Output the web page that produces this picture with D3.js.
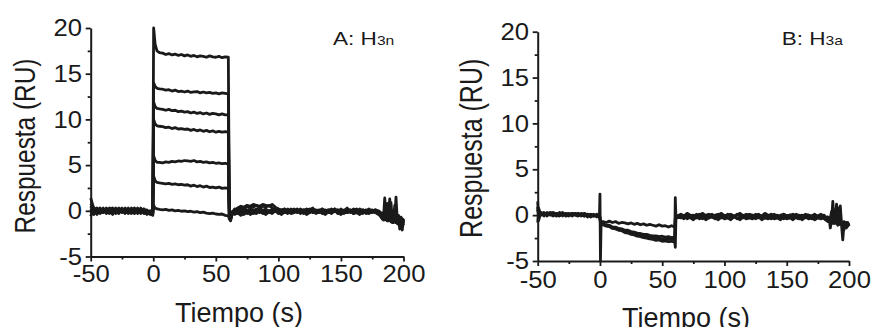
<!DOCTYPE html>
<html>
<head>
<meta charset="utf-8">
<script src="https://cdn.jsdelivr.net/npm/d3@7"></script>
<style>
  html, body { margin: 0; padding: 0; background: #fff; }
  svg { display: block; }
  text { font-family: "Liberation Sans", Arial, Helvetica, sans-serif; fill: #1a1a1a; }
</style>
</head>
<body>
<svg id="chart" width="875" height="327"></svg>
<script>
// Sample times (s) for panel A sensorgrams
const timeA = [-50,-47.5,-45,-42.5,-40,-37.5,-35,-32.5,-30,-27.5,-25,-22.5,-20,-17.5,-15,-12.5,-10,-7.5,-5,-2.5,-0.4,
  0.3,1.5,3,
  5,7.5,10,12.5,15,17.5,20,22.5,25,27.5,30,32.5,35,37.5,40,42.5,45,47.5,50,52.5,55,57.5,60,
  60.8,61.8,63,
  65,67.5,70,72.5,75,77.5,80,82.5,85,87.5,90,92.5,95,97.5,100,102.5,105,107.5,110,112.5,
  115,117.5,120,122.5,125,127.5,130,132.5,135,137.5,140,142.5,145,147.5,150,152.5,155,157.5,160,162.5,
  165,167.5,170,172.5,175,177.5,180,
  181,182,183,184,185,186,187,188,189,190,191,192,193,194,195,196,197,198,199,200];

// Panel A responses (RU), one array per injected concentration
const respA1 = [1.4,0.2,-0.3,0.1,-0.2,0.3,0.0,-0.4,0.2,0.1,-0.1,0.3,-0.2,0.0,0.2,-0.3,0.1,-0.1,-0.3,-0.2,-0.4,
  20.0,18.2,17.5,
  17.3,17.25,17.1,17.2,17.05,17.15,17.0,17.1,16.95,17.05,16.9,17.0,16.85,16.95,16.9,16.8,16.95,16.85,16.8,16.9,16.75,16.85,16.8,
  -0.8,-1.0,-0.4,
  0.1,0.3,0.5,0.4,0.6,0.5,0.7,0.6,0.5,0.7, 0.6,0.5,0.7,0.4,0.2,0.0,0.2,-0.1,0.1,0.0,
  0.2,-0.2,0.1,0.0,-0.1,0.2,0.0,-0.2,0.1,-0.1, 0.0,0.2,-0.1,0.1,-0.2,0.0,0.1,-0.1,0.2,0.0,
  -0.1,0.1,-0.2,0.0,0.1,-0.1,-0.3,
  -0.4,-0.6,-0.3,-0.8,1.4,-0.5,-0.9,-0.4,1.3,-0.7,-1.0,-0.5,-0.8,1.5,-0.9,-1.2,-0.7,-1.6,-1.0,-1.3];
const respA2 = [-0.6,0.3,0.1,-0.2,0.2,-0.1,0.3,0.1,-0.2,0.2,0.0,-0.2,0.2,-0.1,-0.3,0.1,-0.2,0.2,-0.1,-0.4,-0.2,
  14.0,13.6,13.4,
  13.35,13.3,13.2,13.25,13.1,13.2,13.05,13.1,13.0,13.1,12.95,13.0,13.05,12.9,13.0,12.9,12.95,12.85,12.9,12.8,12.9,12.85,12.8,
  -0.6,-0.9,-0.3,
  -0.2,0.1,0.3,0.2,0.5,0.3,0.4,0.6,0.3,0.5, 0.4,0.6,0.3,0.1,0.0,0.1,-0.1,0.2,-0.2,0.1,
  -0.1,0.1,0.0,0.2,-0.2,0.0,0.1,-0.1,0.2,0.0, -0.2,0.1,0.0,-0.1,0.2,-0.2,0.0,0.1,-0.1,0.1,
  0.0,-0.2,0.1,-0.1,0.0,0.1,-0.2,
  -0.2,-0.5,-0.9,-0.4,-0.7,0.3,-0.8,-1.1,-0.6,0.9,-0.9,-1.3,-0.7,-1.0,-1.4,-0.8,-2.0,-1.1,-1.5,-0.9];
const respA3 = [0.5,-0.2,0.2,0.0,0.3,-0.3,0.1,0.2,-0.1,-0.3,0.2,0.0,0.3,-0.2,0.1,0.2,-0.3,0.0,0.1,-0.3,-0.5,
  11.9,11.4,11.2,
  11.15,11.1,11.0,11.1,10.95,11.0,10.85,10.9,10.8,10.85,10.7,10.8,10.65,10.75,10.6,10.7,10.55,10.65,10.6,10.5,10.6,10.5,10.5,
  -0.7,-0.6,-0.2,
  -0.1,-0.3,0.0,-0.2,0.1,-0.1,0.0,0.2,-0.1,0.1, -0.2,0.0,0.1,-0.1,0.2,0.0,-0.2,0.1,0.0,-0.1,
  0.1,0.0,-0.2,0.1,0.2,-0.1,0.0,0.1,-0.2,0.0, 0.1,-0.1,0.2,0.0,-0.1,0.1,-0.2,0.0,0.1,-0.1,
  0.2,0.0,-0.1,0.1,-0.2,0.0,-0.1,
  -0.5,-0.3,-0.7,-1.0,-0.6,-0.9,0.8,-1.0,-0.7,-1.2,-0.6,-0.9,0.6,-1.1,-0.8,-1.5,-1.0,-1.3,-2.1,-1.0];
const respA4 = [-0.3,0.0,-0.4,0.2,0.0,0.1,-0.3,0.2,0.0,0.3,-0.2,0.1,-0.1,0.3,-0.1,0.0,0.2,-0.3,-0.2,0.0,-0.3,
  10.0,9.5,9.3,
  9.25,9.2,9.1,9.15,9.0,9.1,8.95,9.0,8.9,8.95,8.8,8.9,8.75,8.85,8.7,8.8,8.65,8.75,8.6,8.7,8.6,8.65,8.6,
  -0.5,-0.8,-0.3,
  0.0,-0.2,0.1,-0.4,-0.1,0.0,-0.3,0.1,-0.2,0.0, 0.1,-0.2,0.0,-0.1,0.1,-0.3,0.0,-0.1,0.2,-0.2,
  0.0,-0.1,0.1,-0.3,0.0,0.1,-0.2,0.0,-0.1,0.1, -0.2,0.0,-0.1,0.1,-0.1,-0.3,0.0,-0.2,0.0,-0.1,
  -0.2,0.0,-0.3,-0.1,0.0,-0.2,-0.1,
  -0.3,-0.7,-0.5,-0.2,-0.9,-0.6,-1.1,-0.5,-0.9,-0.6,-1.3,-0.8,-1.0,-0.7,-1.2,-0.9,-1.4,-0.8,-1.1,-1.6];
const respA5 = [0.8,0.3,0.0,-0.3,0.1,0.2,-0.2,0.0,0.3,-0.1,0.1,-0.3,0.0,0.2,-0.2,0.3,-0.1,0.1,-0.4,-0.1,-0.2,
  6.0,5.5,5.3,
  5.3,5.25,5.35,5.3,5.4,5.35,5.45,5.4,5.5,5.45,5.4,5.5,5.35,5.4,5.3,5.35,5.25,5.3,5.2,5.25,5.15,5.2,5.1,
  -0.4,-0.7,-0.1,
  -0.3,0.0,-0.2,0.0,-0.3,-0.1,0.1,-0.2,0.0,-0.3, -0.1,0.0,-0.2,0.1,-0.3,0.0,-0.1,-0.3,0.0,0.1,
  -0.2,0.0,-0.3,-0.1,0.1,-0.2,-0.1,0.0,-0.3,-0.1, 0.0,-0.2,0.1,-0.3,0.0,-0.1,-0.2,0.1,-0.3,0.0,
  -0.1,-0.3,0.0,-0.2,-0.1,0.0,-0.2,
  -0.4,-0.2,-0.6,-0.9,-0.5,-1.0,-0.7,-0.4,-1.0,-0.8,-0.6,-1.1,-0.9,-1.3,-0.7,-1.1,-0.8,-1.3,-0.9,-1.2];
const respA6 = [0.2,-0.4,0.1,0.3,-0.2,0.0,0.2,-0.2,0.1,0.0,0.3,-0.1,0.1,-0.3,0.0,-0.1,0.3,-0.2,0.0,-0.3,-0.1,
  3.8,3.3,3.1,
  3.05,3.0,2.95,3.0,2.9,2.95,2.85,2.9,2.8,2.85,2.7,2.8,2.65,2.75,2.6,2.7,2.55,2.6,2.5,2.6,2.45,2.5,2.45,
  -0.5,-0.5,-0.2,
  0.2,-0.1,0.1,0.3,0.0,0.2,-0.1,0.1,0.3,0.0, 0.2,-0.1,0.1,0.0,-0.2,0.1,0.2,-0.1,0.0,0.2,
  -0.1,0.2,0.0,-0.1,0.1,0.3,-0.1,0.0,0.2,-0.1, 0.1,0.0,0.2,-0.2,0.1,0.0,0.3,-0.1,0.0,0.2,
  -0.1,0.1,0.0,0.2,-0.2,0.1,0.0,
  -0.1,-0.5,-0.3,-0.6,-0.3,-0.8,-0.5,-0.9,-0.6,-0.4,-0.9,-0.7,-1.0,-0.6,-0.9,-0.5,-1.1,-0.7,-1.0,-0.8];
const respA7 = [-0.2,0.1,0.3,-0.1,0.2,-0.2,0.1,0.3,-0.3,0.2,-0.1,0.2,-0.3,0.1,0.3,-0.2,0.0,0.2,-0.2,-0.1,-0.3,
  0.6,0.3,0.2,
  0.15,0.1,0.15,0.05,0.1,0.0,0.05,-0.05,0.0,-0.1,-0.05,-0.15,-0.1,-0.2,-0.15,-0.25,-0.3,-0.25,-0.35,-0.4,-0.35,-0.5,-0.55,
  -0.9,-1.1,-0.3,
  -0.4,-0.2,-0.5,-0.3,-0.1,-0.4,-0.2,-0.3,0.0,-0.2, -0.4,-0.1,-0.3,0.0,-0.2,-0.4,-0.1,0.0,-0.3,-0.2,
  0.0,-0.3,-0.1,-0.4,-0.2,0.0,-0.3,-0.1,-0.2,-0.4, -0.1,-0.3,0.0,-0.2,-0.4,-0.1,-0.2,0.0,-0.3,-0.2,
  -0.4,-0.1,-0.2,-0.3,0.0,-0.2,-0.4,
  -0.5,-0.3,-0.8,-0.5,-1.0,-0.6,-0.4,-0.9,-0.7,-1.1,-0.8,-0.6,-1.0,-0.8,-1.2,-0.9,-1.3,-0.9,-1.2,-1.4];

// Sample times (s) for panel B sensorgrams
const timeB = [-50,-49.3,-47.5,-45,-42.5,-40,-37.5,-35,-32.5,-30,-27.5,-25,-22.5,-20,-17.5,-15,-12.5,-10,-7.5,-5,-2.5,-0.4,
  0,0.4,0.9,
  2.5,5,7.5,10,12.5,15,17.5,20,22.5,25,27.5,30,32.5,35,37.5,40,42.5,45,47.5,50,52.5,55,57.5,60,
  60.5,61,62,
  65,67.5,70,72.5,75,77.5,80,82.5,85,87.5,90,92.5,95,97.5,100,102.5,105,107.5,110,112.5,
  115,117.5,120,122.5,125,127.5,130,132.5,135,137.5,140,142.5,145,147.5,150,152.5,155,157.5,160,162.5,
  165,167.5,170,172.5,175,177.5,180,
  181,182,183,184,185,186,187,188,189,190,191,192,193,194,195,196,197,198,199,200];

// Panel B responses (RU)
const respB1 = [1.5,-0.6,0.3,0.1,0.2,0.0,0.3,0.1,0.2,-0.1,0.2,0.1,0.0,0.2,0.1,-0.1,0.2,0.0,0.1,-0.1,0.0,-0.2,
  -0.3,-0.6,-0.7,
  -0.7,-0.8,-0.65,-0.8,-0.7,-0.9,-0.8,-0.85,-0.95,-0.85,-1.0,-0.9,-1.05,-0.95,-1.1,-1.0,-1.1,-1.2,-1.05,-1.2,-1.15,-1.3,-1.15,-1.3,
  -0.4,-0.2,-0.1,
  0.0,-0.2,0.1,-0.1,0.0,-0.3,0.1,-0.1,0.0,0.1, -0.2,0.0,0.1,-0.1,-0.2,0.1,0.0,-0.2,0.1,-0.1,
  0.0,-0.2,0.1,0.0,-0.1,0.1,-0.2,0.0,-0.1,0.1, -0.1,0.0,-0.2,0.1,-0.1,0.0,-0.2,0.1,-0.1,0.0,
  -0.2,0.0,-0.1,0.1,-0.2,-0.1,0.0,
  -0.3,-0.5,-0.2,-0.6,-0.4,-0.8,1.5,-0.5,-0.9,-0.6,-1.0,-0.7,1.0,-0.9,-1.1,-0.8,-1.2,-0.9,-1.1,-1.0];
const respB2 = [0.4,0.8,0.0,0.3,-0.1,0.2,0.1,-0.1,0.3,0.1,0.0,0.2,-0.1,0.1,0.2,0.0,-0.1,0.1,0.0,0.1,-0.2,0.0,
  -0.2,-0.8,-0.9,
  -0.95,-1.1,-1.1,-1.3,-1.3,-1.45,-1.5,-1.65,-1.65,-1.8,-1.85,-1.95,-2.0,-2.1,-2.1,-2.2,-2.25,-2.25,-2.35,-2.3,-2.4,-2.35,-2.45,-2.4,
  -0.6,-0.3,-0.2,
  -0.3,-0.1,-0.4,-0.2,-0.3,-0.1,-0.2,-0.4,-0.1,-0.3, -0.2,-0.4,-0.2,-0.3,0.0,-0.3,-0.2,-0.1,-0.4,-0.2,
  -0.3,-0.1,-0.3,-0.4,-0.2,-0.3,-0.1,-0.3,-0.2,-0.4, -0.2,-0.3,-0.1,-0.4,-0.2,-0.3,-0.1,-0.3,-0.4,-0.2,
  -0.3,-0.1,-0.4,-0.2,-0.3,-0.2,-0.4,
  -0.4,-0.2,-0.6,-0.3,-1.4,-0.5,-0.8,-0.4,-0.7,1.2,-0.8,-1.0,-0.6,-1.1,-2.7,-0.9,-1.3,-0.8,-1.2,-0.9];
const respB3 = [-0.8,0.5,0.2,-0.1,0.3,0.1,-0.1,0.2,0.0,0.3,-0.1,0.0,0.2,0.0,-0.1,0.2,0.1,-0.2,0.0,-0.1,0.1,-0.1,
  -0.4,-0.9,-1.0,
  -1.0,-1.15,-1.2,-1.35,-1.4,-1.55,-1.6,-1.75,-1.8,-1.95,-2.0,-2.1,-2.15,-2.25,-2.3,-2.4,-2.4,-2.5,-2.5,-2.6,-2.55,-2.65,-2.6,-2.7,
  -3.5,-0.4,-0.3,
  -0.2,-0.4,-0.1,-0.3,-0.5,-0.2,-0.4,-0.2,-0.5,-0.3, -0.1,-0.3,-0.5,-0.2,-0.4,-0.3,-0.5,-0.2,-0.3,-0.5,
  -0.2,-0.4,-0.3,-0.1,-0.4,-0.2,-0.5,-0.3,-0.4,-0.2, -0.4,-0.3,-0.5,-0.2,-0.4,-0.3,-0.5,-0.2,-0.3,-0.5,
  -0.2,-0.4,-0.3,-0.5,-0.3,-0.4,-0.2,
  -0.5,-0.3,-0.7,-0.5,-0.8,-0.4,-0.9,-0.6,0.6,-0.8,-1.1,-0.7,-1.0,-0.8,-1.2,-0.7,-1.0,-1.4,-0.9,-1.1];
const respB4 = [0.9,-0.3,0.1,0.2,0.0,0.3,0.2,0.0,-0.1,0.2,0.1,-0.1,0.2,0.1,0.0,0.1,-0.1,0.1,-0.2,0.0,-0.1,0.0,
  2.3,-5.0,-1.0,
  -1.05,-1.2,-1.25,-1.45,-1.5,-1.65,-1.7,-1.9,-1.95,-2.1,-2.15,-2.3,-2.35,-2.45,-2.5,-2.6,-2.65,-2.75,-2.7,-2.85,-2.8,-2.9,-2.85,-2.95,
  1.9,-0.2,-0.1,
  0.1,-0.1,0.2,0.0,-0.2,0.1,0.0,0.2,-0.1,0.0, 0.1,-0.2,0.0,0.2,-0.1,0.0,0.1,-0.1,0.0,0.2,
  -0.1,0.1,0.0,-0.2,0.1,0.0,-0.1,0.2,0.0,-0.1, 0.1,-0.2,0.0,0.1,-0.1,0.0,0.1,-0.1,0.0,-0.2,
  0.1,0.0,-0.2,0.0,-0.1,0.1,-0.2,
  -0.2,-0.6,-0.4,-0.7,-0.3,0.4,-0.6,-0.9,-0.5,-0.8,-0.6,0.8,-0.9,-0.7,-1.0,-1.6,-0.8,-1.1,-0.8,-1.2];

// Axis ticks
const xTicks = [-50, 0, 50, 100, 150, 200];
const xMinor = [-25, 25, 75, 125, 175];
const yTicks = [-5, 0, 5, 10, 15, 20];
const yMinor = [-2.5, 2.5, 7.5, 12.5, 17.5];

const xTitle = "Tiempo (s)";
const yTitle = "Respuesta (RU)";

const svg = d3.select("#chart");
const ink = "#1a1a1a";
const plain = d => String(d); // hyphen minus, as printed on the axes

function drawPanel(p) {
  const x = d3.scaleLinear().domain([-50, 200]).range(p.xRange);
  const y = d3.scaleLinear().domain([-5, 20]).range(p.yRange);
  const g = svg.append("g");

  const line = d3.line().x((d, i) => x(p.time[i])).y(d => y(d));
  g.selectAll("path.trace").data(p.series).join("path")
    .attr("class", "trace")
    .attr("d", d => line(d))
    .attr("fill", "none")
    .attr("stroke", ink)
    .attr("stroke-width", 2.8)
    .attr("stroke-linejoin", "round");

  // minor ticks
  g.append("g").attr("transform", `translate(0,${p.yRange[0]})`)
    .call(d3.axisBottom(x).tickValues(xMinor).tickSize(3).tickFormat(""))
    .call(s => s.select(".domain").remove());
  g.append("g").attr("transform", `translate(${p.xRange[0]},0)`)
    .call(d3.axisLeft(y).tickValues(yMinor).tickSize(3).tickFormat(""))
    .call(s => s.select(".domain").remove());

  const xa = g.append("g").attr("transform", `translate(0,${p.yRange[0]})`)
    .call(d3.axisBottom(x).tickValues(xTicks).tickSize(5).tickSizeOuter(0).tickPadding(p.xPad).tickFormat(plain));
  const ya = g.append("g").attr("transform", `translate(${p.xRange[0]},0)`)
    .call(d3.axisLeft(y).tickValues(yTicks).tickSize(5).tickSizeOuter(0).tickPadding(3).tickFormat(plain));

  [xa, ya].forEach(a => {
    a.select(".domain").attr("stroke", ink).attr("stroke-width", 2);
    a.selectAll(".tick text").attr("fill", ink).style("font-size", "24px")
      .style("font-family", '"Liberation Sans", Arial, sans-serif')
      .attr("transform", "scale(1.07,1)");
  });
  g.selectAll(".tick line").attr("stroke", ink).attr("stroke-width", 1.8);

  g.append("text")
    .attr("transform", `translate(${p.xTitle[0]},${p.xTitle[1]})`)
    .attr("text-anchor", "middle").style("font-size", "27px").text(xTitle);
  g.append("text")
    .attr("transform", `translate(${p.yTitle[0]},${p.yTitle[1]}) rotate(-90) scale(1,1.22)`)
    .attr("text-anchor", "middle").style("font-size", p.yTitleSize + "px").text(yTitle);

  const lab = g.append("text")
    .attr("transform", `translate(${p.label[0]},${p.label[1]}) scale(1.22,1)`);
  lab.append("tspan").style("font-size", "18.5px").text(p.labelMain);
  lab.append("tspan").style("font-size", "12.8px").text(p.labelSub);
}

drawPanel({
  time: timeA,
  series: [respA1, respA2, respA3, respA4, respA5, respA6, respA7],
  xRange: [90.7, 403.5], yRange: [256.5, 28], xPad: 3.5,
  xTitle: [239, 321.5], yTitle: [35, 146], yTitleSize: 24.4,
  label: [333, 45], labelMain: "A: H", labelSub: "3n"
});

drawPanel({
  time: timeB,
  series: [respB1, respB2, respB3, respB4],
  xRange: [537.7, 849], yRange: [261, 31.7], xPad: 5,
  xTitle: [686, 327], yTitle: [481.5, 148.3], yTitleSize: 25,
  label: [781.7, 45], labelMain: "B: H", labelSub: "3a"
});
</script>
</body>
</html>
